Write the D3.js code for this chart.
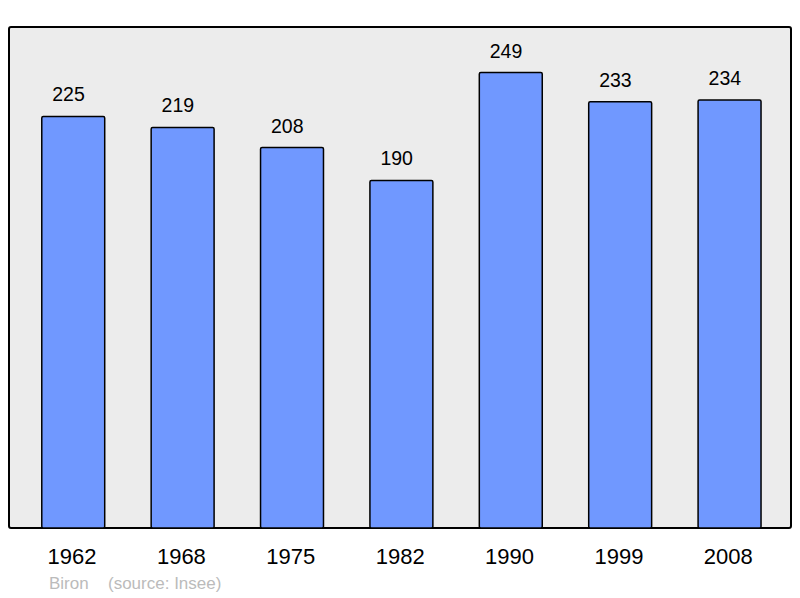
<!DOCTYPE html>
<html><head><meta charset="utf-8">
<script src="https://cdn.jsdelivr.net/npm/d3@7"></script>
<style>body{margin:0;background:#fff}svg{display:block}text{font-family:"Liberation Sans",Arial,sans-serif}</style>
</head><body>
<svg id="c" width="800" height="598"></svg>
<script>
const years = ["1962","1968","1975","1982","1990","1999","2008"];
const population = [225,219,208,190,249,233,234];
const place = "Biron";
const source = "(source: Insee)";

const svg = d3.select("#c");
const frame = {x0:9, y0:27, x1:791, y1:528};
svg.append("rect").attr("x",frame.x0).attr("y",frame.y0)
  .attr("width",frame.x1-frame.x0).attr("height",frame.y1-frame.y0)
  .attr("rx",2).attr("fill","#ececec").attr("stroke","#000").attr("stroke-width",2);

const x = d3.scaleBand().domain(years).range([18.3,784]).paddingInner(0.42).paddingOuter(0.21);
const y = d3.scaleLinear().domain([0, d3.max(population)*1.1]).range([frame.y1, frame.y0]);

const g = svg.append("g");
g.selectAll("rect.bar").data(years).join("rect").attr("class","bar")
  .attr("x",d=>x(d)+0.5).attr("width",x.bandwidth()-0.5)
  .attr("y",(d,i)=>y(population[i])).attr("height",(d,i)=>y(0)-y(population[i]))
  .attr("rx",1.5).attr("fill","#7098ff").attr("stroke","#000").attr("stroke-width",1.5);

g.selectAll("text.val").data(years).join("text").attr("class","val")
  .attr("x",d=>x(d)+x.bandwidth()/2-4.5).attr("y",(d,i)=>y(population[i])-15)
  .attr("text-anchor","middle").attr("font-size",19.5).attr("fill","#000")
  .text((d,i)=>population[i]);

// x axis labels
const ax = svg.append("g").attr("transform",`translate(0,${frame.y1})`)
  .call(d3.axisBottom(x).tickSize(0).tickPadding(0));
ax.select(".domain").remove();
ax.selectAll("text").attr("dy",null).attr("y",36).attr("x",-1).attr("font-size",22).attr("fill","#000")
  .attr("font-family","'Liberation Sans',Arial,sans-serif");

svg.append("text").attr("x",49).attr("y",589).attr("font-size",17).attr("fill","#bbb").text(place);
svg.append("text").attr("x",108).attr("y",589).attr("font-size",17).attr("fill","#bbb").text(source);
</script>
</body></html>
